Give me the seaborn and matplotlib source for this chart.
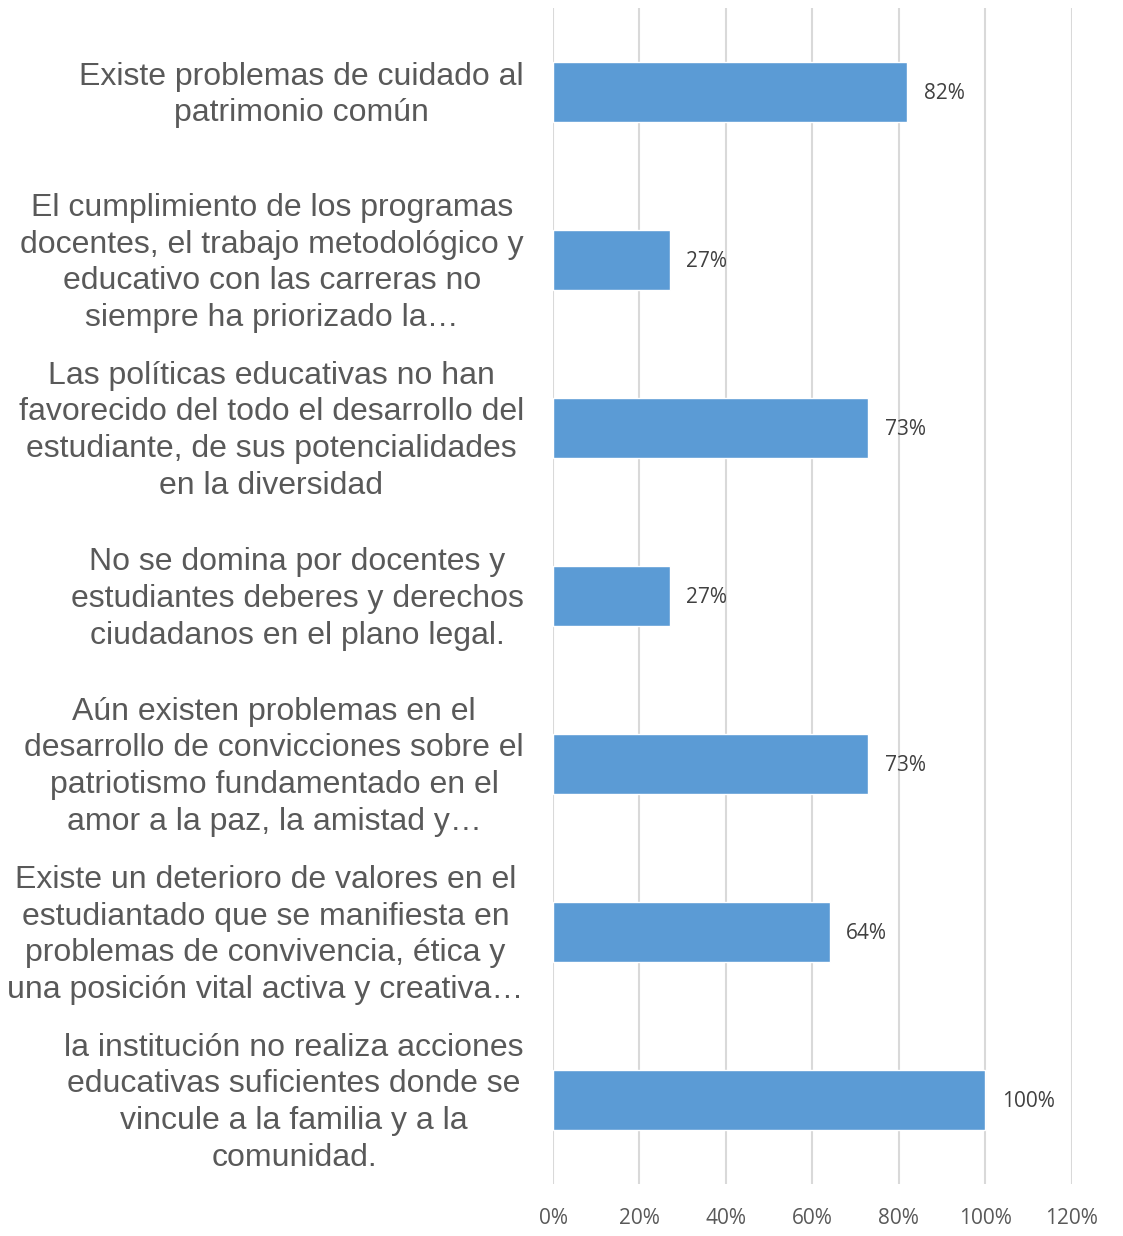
import matplotlib
matplotlib.use("Agg")
import matplotlib.pyplot as plt
import matplotlib.transforms as mtransforms
import seaborn as sns
import pandas as pd
from matplotlib.ticker import FuncFormatter

categories = [
    "Existe problemas de cuidado al\npatrimonio común",
    "El cumplimiento de los programas\ndocentes, el trabajo metodológico y\neducativo con las carreras no\nsiempre ha priorizado la…",
    "Las políticas educativas no han\nfavorecido del todo el desarrollo del\nestudiante, de sus potencialidades\nen la diversidad",
    "No se domina por docentes y\nestudiantes deberes y derechos\nciudadanos en el plano legal.",
    "Aún existen problemas en el\ndesarrollo de convicciones sobre el\npatriotismo fundamentado en el\namor a la paz, la amistad y…",
    "Existe un deterioro de valores en el\nestudiantado que se manifiesta en\nproblemas de convivencia, ética y\nuna posición vital activa y creativa…",
    "la institución no realiza acciones\neducativas suficientes donde se\nvincule a la familia y a la\ncomunidad.",
]
values = [0.82, 0.27, 0.73, 0.27, 0.73, 0.64, 1.00]
value_labels = ["82%", "27%", "73%", "27%", "73%", "64%", "100%"]
x_ticks = [0, 0.2, 0.4, 0.6, 0.8, 1.0, 1.2]

sns.set_theme(style="white")
plt.rcParams["font.family"] = ["Liberation Sans", "DejaVu Sans"]

df = pd.DataFrame({"cat": categories, "val": values})

fig = plt.figure(figsize=(11.23, 12.36), dpi=100)
ax = fig.add_axes([553 / 1123, 1 - 1184 / 1236, (1071.6 - 553) / 1123, (1184 - 8) / 1236])

sns.barplot(data=df, x="val", y="cat", orient="h", color="#5B9BD5",
            width=0.36, saturation=1, ax=ax, zorder=3)

ax.set_xlim(0, 1.2)
ax.set_ylim(len(categories) - 0.5, -0.5)
ax.set_xticks(x_ticks)
ax.xaxis.set_major_formatter(FuncFormatter(lambda v, p: f"{v*100:.0f}%"))
ax.grid(axis="x", color="#D9D9D9", linewidth=1.5, zorder=0)
ax.grid(axis="y", visible=False)
for s in ax.spines.values():
    s.set_visible(False)
ax.set_xlabel("")
ax.set_ylabel("")

ax.tick_params(axis="x", length=0, pad=17, labelsize=15, labelcolor="#595959")
for lab in ax.get_xticklabels():
    lab.set_fontfamily(["Open Sans", "DejaVu Sans"])
ax.tick_params(axis="y", length=0, pad=21, labelsize=23, labelcolor="#595959")
shift = mtransforms.ScaledTranslation(0, 4 / 100, fig.dpi_scale_trans)
for lab in ax.get_yticklabels():
    lab.set_multialignment("center")
    lab.set_horizontalalignment("right")
    lab.set_linespacing(1.29)
    lab.set_transform(lab.get_transform() + shift)

for i, (v, t) in enumerate(zip(values, value_labels)):
    ax.annotate(t, xy=(v, i), xytext=(12, -1), textcoords="offset points",
                ha="left", va="center", fontsize=15, color="#404040",
                fontfamily=["Open Sans", "DejaVu Sans"])

fig.savefig("out.png", dpi=100)
